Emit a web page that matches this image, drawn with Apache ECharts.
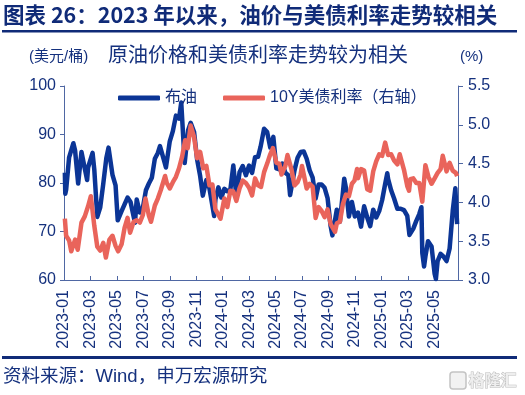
<!DOCTYPE html>
<html>
<head>
<meta charset="utf-8">
<script src="https://cdn.jsdelivr.net/npm/echarts@6/dist/echarts.min.js"></script>
<style>
html,body{margin:0;padding:0;background:#fff;}
#c{width:525px;height:395px;}
</style>
</head>
<body>
<div id="c"></div>
<script>
// ---------- DATA ----------
const seriesNames = ['布油', '10Y美债利率（右轴）'];
const leftTicks = [60, 70, 80, 90, 100];
const rightTicks = [3.0, 3.5, 4.0, 4.5, 5.0, 5.5];
const xTickLabels = ['2023-01','2023-03','2023-05','2023-07','2023-09','2023-11','2024-01','2024-03','2024-05','2024-07','2024-09','2024-11','2025-01','2025-03','2025-05'];

// Brent crude (USD/bbl)
const brent = [
['2023-01-03',82.1],['2023-01-04',77.8],['2023-01-06',78.6],['2023-01-13',85.3],['2023-01-23',88.2],['2023-01-27',86.7],
['2023-02-03',79.9],['2023-02-10',86.4],['2023-02-17',83.0],['2023-02-22',80.6],['2023-02-24',83.2],['2023-03-06',86.2],
['2023-03-10',82.8],['2023-03-17',73.0],['2023-03-24',75.0],['2023-03-31',79.8],['2023-04-07',85.1],['2023-04-12',87.3],
['2023-04-21',81.7],['2023-04-28',79.5],['2023-05-03',72.3],['2023-05-12',74.2],['2023-05-19',75.6],['2023-05-26',77.0],
['2023-06-02',76.1],['2023-06-12',71.8],['2023-06-16',76.6],['2023-06-23',73.9],['2023-06-30',74.9],['2023-07-07',78.5],
['2023-07-14',79.9],['2023-07-21',81.1],['2023-07-28',85.0],['2023-08-04',86.2],['2023-08-09',87.6],['2023-08-18',84.8],
['2023-08-23',83.2],['2023-09-01',88.6],['2023-09-08',90.7],['2023-09-15',93.9],['2023-09-22',93.3],['2023-09-27',96.6],
['2023-10-05',84.1],['2023-10-13',90.9],['2023-10-19',92.4],['2023-10-27',90.5],['2023-11-03',84.9],['2023-11-10',81.4],
['2023-11-16',77.4],['2023-11-24',80.6],['2023-12-01',78.9],['2023-12-12',73.2],['2023-12-15',76.6],['2023-12-22',79.1],
['2023-12-29',77.0],['2024-01-05',78.8],['2024-01-12',78.3],['2024-01-19',78.6],['2024-01-26',83.6],['2024-02-02',77.3],
['2024-02-09',82.2],['2024-02-16',83.5],['2024-02-23',81.6],['2024-03-01',83.6],['2024-03-08',82.1],['2024-03-15',85.3],
['2024-03-22',85.4],['2024-03-28',87.5],['2024-04-05',91.2],['2024-04-12',90.5],['2024-04-19',87.3],['2024-04-26',89.5],
['2024-05-03',83.0],['2024-05-10',82.8],['2024-05-17',84.0],['2024-05-24',82.1],['2024-05-31',81.6],['2024-06-04',77.5],
['2024-06-14',82.6],['2024-06-21',85.2],['2024-06-28',86.4],['2024-07-05',86.5],['2024-07-12',85.0],['2024-07-19',82.6],
['2024-07-26',81.1],['2024-08-02',76.8],['2024-08-09',79.7],['2024-08-16',79.7],['2024-08-23',79.0],['2024-08-30',76.9],
['2024-09-06',71.1],['2024-09-10',69.2],['2024-09-20',74.5],['2024-09-27',72.0],['2024-10-04',78.1],['2024-10-07',80.9],
['2024-10-11',79.0],['2024-10-18',73.1],['2024-10-25',76.1],['2024-11-01',73.1],['2024-11-08',73.9],['2024-11-15',71.0],
['2024-11-22',75.2],['2024-11-29',72.9],['2024-12-06',71.1],['2024-12-13',74.5],['2024-12-20',72.9],['2024-12-27',74.2],
['2025-01-03',76.5],['2025-01-10',79.8],['2025-01-15',82.0],['2025-01-17',80.8],['2025-01-24',78.5],['2025-01-31',76.8],
['2025-02-07',74.7],['2025-02-14',74.7],['2025-02-21',74.4],['2025-02-28',73.2],['2025-03-05',69.3],['2025-03-14',70.6],
['2025-03-21',72.2],['2025-03-28',73.6],['2025-04-02',75.0],['2025-04-04',65.6],['2025-04-08',62.8],['2025-04-11',64.8],
['2025-04-17',68.0],['2025-04-25',66.9],['2025-05-02',61.3],['2025-05-05',60.2],['2025-05-09',63.9],['2025-05-16',65.4],
['2025-05-23',64.8],['2025-05-30',63.9],['2025-06-06',66.5],['2025-06-13',74.2],['2025-06-19',78.9],['2025-06-23',71.5]
];

// US 10Y Treasury yield (%)
const ust10y = [
['2023-01-03',3.79],['2023-01-06',3.57],['2023-01-13',3.51],['2023-01-18',3.37],['2023-01-27',3.52],['2023-02-02',3.39],
['2023-02-10',3.74],['2023-02-17',3.82],['2023-02-24',3.95],['2023-03-02',4.08],['2023-03-10',3.70],['2023-03-17',3.43],
['2023-03-24',3.38],['2023-03-31',3.48],['2023-04-06',3.29],['2023-04-14',3.52],['2023-04-21',3.57],['2023-04-28',3.44],
['2023-05-04',3.37],['2023-05-12',3.46],['2023-05-19',3.67],['2023-05-26',3.80],['2023-06-01',3.61],['2023-06-09',3.75],
['2023-06-16',3.77],['2023-06-23',3.74],['2023-06-30',3.84],['2023-07-06',4.05],['2023-07-14',3.83],['2023-07-19',3.75],
['2023-07-28',3.96],['2023-08-04',4.05],['2023-08-11',4.16],['2023-08-21',4.34],['2023-08-25',4.25],['2023-09-01',4.18],
['2023-09-08',4.26],['2023-09-15',4.33],['2023-09-22',4.44],['2023-09-29',4.59],['2023-10-06',4.80],['2023-10-12',4.70],
['2023-10-19',4.99],['2023-10-27',4.84],['2023-11-03',4.57],['2023-11-10',4.65],['2023-11-17',4.44],['2023-11-24',4.47],
['2023-12-01',4.22],['2023-12-08',4.23],['2023-12-15',3.91],['2023-12-27',3.79],['2024-01-05',4.05],['2024-01-12',3.94],
['2024-01-19',4.15],['2024-01-26',4.14],['2024-02-02',4.02],['2024-02-09',4.18],['2024-02-16',4.28],['2024-02-23',4.25],
['2024-03-01',4.19],['2024-03-08',4.09],['2024-03-15',4.31],['2024-03-22',4.22],['2024-03-29',4.20],['2024-04-05',4.39],
['2024-04-12',4.50],['2024-04-19',4.62],['2024-04-25',4.70],['2024-05-03',4.51],['2024-05-10',4.50],['2024-05-15',4.36],
['2024-05-24',4.47],['2024-05-29',4.61],['2024-06-07',4.43],['2024-06-14',4.22],['2024-06-21',4.26],['2024-06-28',4.36],
['2024-07-01',4.47],['2024-07-12',4.18],['2024-07-19',4.24],['2024-07-26',4.20],['2024-08-02',3.80],['2024-08-09',3.94],
['2024-08-16',3.89],['2024-08-23',3.81],['2024-08-30',3.91],['2024-09-06',3.72],['2024-09-16',3.62],['2024-09-20',3.73],
['2024-09-27',3.75],['2024-10-04',3.98],['2024-10-11',4.10],['2024-10-18',4.08],['2024-10-25',4.24],['2024-10-31',4.28],
['2024-11-06',4.43],['2024-11-08',4.31],['2024-11-15',4.43],['2024-11-22',4.41],['2024-11-29',4.17],['2024-12-06',4.15],
['2024-12-13',4.40],['2024-12-20',4.53],['2024-12-27',4.62],['2025-01-03',4.60],['2025-01-10',4.77],['2025-01-14',4.79],
['2025-01-17',4.61],['2025-01-24',4.62],['2025-01-31',4.54],['2025-02-07',4.49],['2025-02-12',4.62],['2025-02-21',4.42],
['2025-02-28',4.21],['2025-03-04',4.15],['2025-03-07',4.30],['2025-03-14',4.31],['2025-03-21',4.25],['2025-03-28',4.25],
['2025-04-04',4.01],['2025-04-11',4.48],['2025-04-18',4.33],['2025-04-25',4.24],['2025-05-02',4.31],['2025-05-09',4.38],
['2025-05-16',4.43],['2025-05-21',4.60],['2025-05-30',4.40],['2025-06-06',4.51],['2025-06-13',4.41],['2025-06-20',4.38],
['2025-06-23',4.34]
];

// ---------- BUILD ----------
function monthIndex(s){
  const y = +s.slice(0,4), m = +s.slice(5,7), d = +s.slice(8,10);
  const dim = new Date(y, m, 0).getDate();
  return (y - 2023) * 12 + (m - 1) + (d - 1) / dim;
}
const toPts = arr => arr.map(p => [monthIndex(p[0]), p[1]]);

const NAVY = '#15317e';
const AXIS = '#4f67a3';
const BLUE = '#0b3596';
const RED = '#e9645b';
const FONT = '"Liberation Sans", "Noto Sans CJK SC", sans-serif';

const chart = echarts.init(document.getElementById('c'), null, {renderer: 'canvas'});
chart.setOption({
  animation: false,
  backgroundColor: '#fff',
  textStyle: {fontFamily: FONT},
  grid: {left: 64, right: 67, top: 86, bottom: 115, containLabel: false},
  legend: {
    left: 113, top: 85, itemWidth: 42, itemHeight: 5, itemGap: 26, icon: 'roundRect',
    textStyle: {fontSize: 16, color: NAVY, fontFamily: FONT},
    data: seriesNames
  },
  xAxis: {
    type: 'value', min: 0, max: 29.8, interval: 2,
    axisLine: {show: true, lineStyle: {color: AXIS, width: 1}},
    axisTick: {show: true, inside: true, length: 4, lineStyle: {color: AXIS}},
    splitLine: {show: false},
    axisLabel: {
      rotate: 90, fontSize: 16, color: NAVY, margin: 10, showMaxLabel: false,
      formatter: v => {
        if (Math.abs(v - Math.round(v)) > 1e-6) return '';
        const i = Math.round(v) / 2;
        return xTickLabels[i] || '';
      }
    }
  },
  yAxis: [
    {
      type: 'value', min: leftTicks[0], max: leftTicks[leftTicks.length-1], interval: 10,
      axisLine: {show: true, lineStyle: {color: AXIS}},
      axisTick: {show: true, length: 4, lineStyle: {color: AXIS}},
      splitLine: {show: false},
      axisLabel: {fontSize: 16, color: NAVY, margin: 8}
    },
    {
      type: 'value', min: rightTicks[0], max: rightTicks[rightTicks.length-1], interval: 0.5,
      position: 'right',
      axisLine: {show: true, lineStyle: {color: AXIS}},
      axisTick: {show: true, length: 5, lineStyle: {color: AXIS}},
      splitLine: {show: false},
      axisLabel: {fontSize: 16, color: NAVY, margin: 10, formatter: v => v.toFixed(1)}
    }
  ],
  series: [
    {
      name: seriesNames[0], type: 'line', yAxisIndex: 0, data: toPts(brent),
      showSymbol: false, symbol: 'none', lineStyle: {color: BLUE, width: 4.5, join: 'round'}, itemStyle: {color: BLUE}, z: 2
    },
    {
      name: seriesNames[1], type: 'line', yAxisIndex: 1, data: toPts(ust10y),
      showSymbol: false, symbol: 'none', lineStyle: {color: RED, width: 4.5, join: 'round'}, itemStyle: {color: RED}, z: 3
    }
  ],
  graphic: [
    {type: 'text', left: 3, top: 4, style: {text: '图表 26：2023 年以来，油价与美债利率走势较相关', fill: '#102b78', font: 'bold 21.5px "Noto Sans CJK SC", "Liberation Sans", sans-serif'}},
    {type: 'rect', shape: {x: 2, y: 30, width: 515, height: 2.5}, style: {fill: '#102b78'}},
    {type: 'text', left: 29, top: 49, style: {text: '(美元/桶)', fill: NAVY, font: '15px "Liberation Sans", "Noto Sans CJK SC", sans-serif'}},
    {type: 'text', left: 108, top: 44, style: {text: '原油价格和美债利率走势较为相关', fill: NAVY, font: '20px "Noto Sans CJK SC", sans-serif'}},
    {type: 'text', left: 460, top: 49, style: {text: '(%)', fill: NAVY, font: '15px "Liberation Sans", sans-serif'}},
    {type: 'rect', shape: {x: 2, y: 356, width: 515, height: 3}, style: {fill: '#102b78'}},
    {type: 'text', left: 3, top: 368, style: {text: '资料来源：Wind，申万宏源研究', fill: NAVY, font: '18.5px "Liberation Sans", "Noto Sans CJK SC", sans-serif'}},
    {type: 'rect', shape: {x: 450, y: 372, width: 16, height: 17, r: 3}, style: {fill: '#f2f2f2', stroke: '#c4c4c4', lineWidth: 1.5}},
    {type: 'text', left: 468, top: 371, style: {text: '格隆汇', fill: '#eeeeee', stroke: '#bdbdbd', lineWidth: 1, font: 'bold 16px "Noto Sans CJK SC", sans-serif'}}
  ]
});
</script>
</body>
</html>
